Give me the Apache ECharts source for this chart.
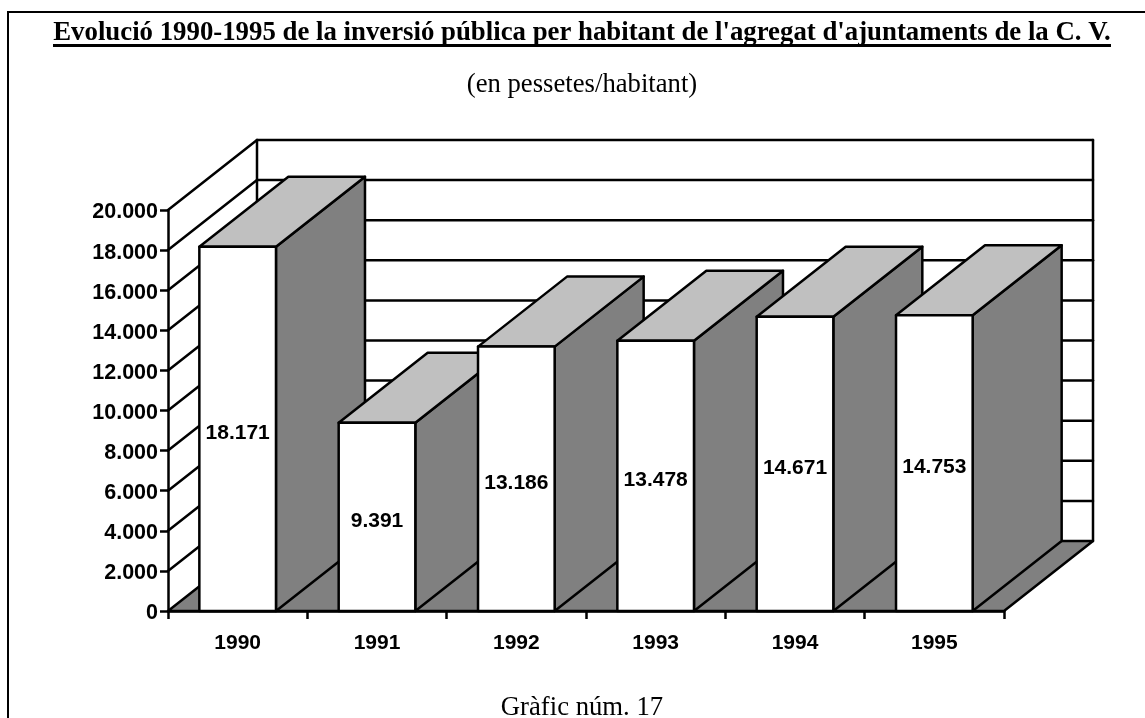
<!DOCTYPE html>
<html><head><meta charset="utf-8">
<style>html,body{margin:0;padding:0;background:#fff}#c{width:1145px;height:718px}</style>
<script src="https://cdn.jsdelivr.net/npm/echarts@6/dist/echarts.min.js"></script>
</head><body><div id="c"></div>
<script>
const years = ['1990','1991','1992','1993','1994','1995'];
const values = [18171, 9391, 13186, 13478, 14671, 14753];
const wallTicks = [0,2000,4000,6000,8000,10000,12000,14000,16000,18000,20000];
const titleText = "Evolució 1990-1995 de la inversió pública per habitant de l'agregat d'ajuntaments de la C. V.";
const subtitleText = "(en pessetes/habitant)";
const footerText = "Gràfic núm. 17";

const DX = 89, DY = -70, BAND = 0.55;
const INK = '#000', SIDE = '#808080', TOP = '#c0c0c0', LW = 2.5;
const fmt = v => String(v).replace(/\B(?=(\d{3})+$)/g, '.');
const sans = '"Liberation Sans", Arial, sans-serif';
const serif = '"Liberation Serif", "Times New Roman", serif';
const poly = (pts, fill, z) => ({type:'polygon', shape:{points:pts}, z2:z||0,
  style:{fill:fill, stroke:INK, lineWidth:LW, lineJoin:'round'}});
const line = (a, b) => ({type:'line', shape:{x1:a[0],y1:a[1],x2:b[0],y2:b[1]},
  style:{stroke:INK, lineWidth:LW, fill:null, lineCap:'round'}});

function renderWall(params, api){
  const cs = params.coordSys;
  const v = api.value(0);
  const y = api.coord([0, v])[1];
  const L = cs.x, R = cs.x + cs.width;
  const kids = [];
  if (v === wallTicks[0]) {
    const yTop = api.coord([0, wallTicks[wallTicks.length-1]])[1];
    kids.push(poly([[L,y],[L+DX,y+DY],[R+DX,y+DY],[R,y]], SIDE));
    kids.push(line([L+DX,yTop+DY],[L+DX,y+DY]));
    kids.push(line([R+DX,yTop+DY],[R+DX,y+DY]));
  } else {
    kids.push(line([L,y],[L+DX,y+DY]));
    kids.push(line([L+DX,y+DY],[R+DX,y+DY]));
  }
  return {type:'group', children:kids};
}

function renderBar(params, api){
  const i = api.value(0), v = api.value(1);
  const c = api.coord([i, v]), b = api.coord([i, 0]);
  const w = api.size([1,0])[0] * BAND;
  const x0 = c[0]-w/2, x1 = c[0]+w/2, yt = c[1], yb = b[1];
  return {type:'group', children:[
    poly([[x1,yb],[x1+DX,yb+DY],[x1+DX,yt+DY],[x1,yt]], SIDE),
    poly([[x0,yt],[x0+DX,yt+DY],[x1+DX,yt+DY],[x1,yt]], TOP),
    poly([[x0,yb],[x0,yt],[x1,yt],[x1,yb]], '#fff'),
    {type:'text', x:c[0], y:(yt+yb)/2+4, z2:5,
      style:{text:fmt(v), font:'bold 21px '+sans, fill:INK, align:'center', verticalAlign:'middle'}}
  ]};
}

const chart = echarts.init(document.getElementById('c'));
chart.setOption({
  animation:false,
  backgroundColor:'#fff',
  title:[
    {text:titleText, left:582, top:20, padding:0, textAlign:'center',
      textStyle:{fontFamily:serif, fontWeight:'bold', fontSize:26.8, color:INK}},
    {text:subtitleText, left:582, top:71, padding:0, textAlign:'center',
      textStyle:{fontFamily:serif, fontWeight:'normal', fontSize:26.7, color:INK}},
    {text:footerText, left:582, top:694, padding:0, textAlign:'center',
      textStyle:{fontFamily:serif, fontWeight:'normal', fontSize:26.7, color:INK}}
  ],
  grid:{left:168, top:210, width:836, height:401, containLabel:false},
  xAxis:{type:'category', data:years, boundaryGap:true, z:10,
    axisLine:{lineStyle:{color:INK,width:LW}},
    axisTick:{show:true,length:8,alignWithLabel:false,lineStyle:{color:INK,width:LW}},
    axisLabel:{color:INK,fontFamily:sans,fontWeight:'bold',fontSize:21,margin:22,interval:0},
    splitLine:{show:false}},
  yAxis:{type:'value', min:0, max:20000, interval:2000, z:10,
    axisLine:{show:true,lineStyle:{color:INK,width:LW}},
    axisTick:{show:true,length:8,lineStyle:{color:INK,width:LW}},
    axisLabel:{margin:10, formatter:v => '{n|' + fmt(v) + '}',
      rich:{n:{color:INK,fontFamily:sans,fontWeight:'bold',fontSize:21.5,padding:[5,0,0,0]}}},
    splitLine:{show:false}},
  series:[
    {type:'custom', renderItem:renderWall, data:wallTicks.map(v=>[v]), z:1, silent:true,
      encode:{y:0}},
    {type:'custom', renderItem:renderBar, data:values.map((v,i)=>[i,v]), z:2, silent:true,
      encode:{x:0,y:1}}
  ],
  graphic:[
    {type:'polyline', shape:{points:[[8,718],[8,12],[1145,12]]}, silent:true,
      style:{stroke:INK,lineWidth:2,fill:null}},
    {type:'rect', shape:{x:53,y:44,width:1058,height:3}, silent:true, style:{fill:INK}}
  ]
});
</script></body></html>
